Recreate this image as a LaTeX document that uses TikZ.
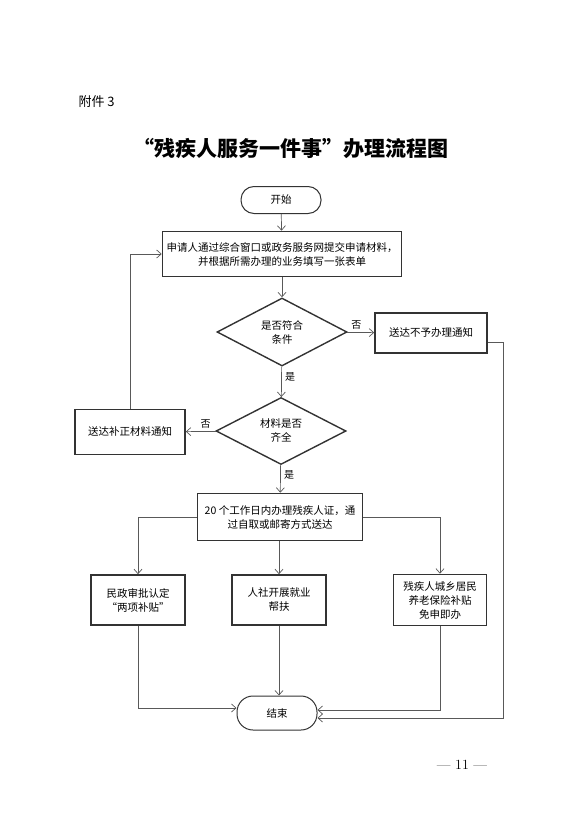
\documentclass[tikz,border=0pt]{standalone}
\usepackage{fontspec}
\newfontfamily\cjk{Noto Sans CJK SC}
\usetikzlibrary{shapes.geometric,arrows.meta}
\tikzset{
  flow/.style={x=1pt,y=-1pt,font=\cjk\fontsize{10.5}{14}\selectfont},
  stepbox/.style={draw=black!80,line width=1.6pt,align=center,minimum width=#1},
  stepbox/.default=94pt,
  term/.style={draw=black!80,line width=1pt,rounded corners=13pt,minimum width=80pt},
  decide/.style={diamond,draw=black!80,line width=1.4pt,align=center,aspect=1.9,
    minimum width=130pt,minimum height=68pt,inner sep=0pt},
  conn/.style={-{Straight Barb[length=4.5pt,width=8pt]},draw=black!65,line width=0.7pt},
  lbl/.style={font=\cjk\fontsize{10}{12}\selectfont}
}

\begin{document}
\begin{tikzpicture}[flow]
    \useasboundingbox (0,0) rectangle (582,832);
    \node[anchor=west,font=\cjk\fontsize{13}{15}\selectfont] (annex) at (75,102) {附件 3};
    \node[font=\cjk\bfseries\fontsize{21}{24}\selectfont] (title) at (291,148)
      {“残疾人服务一件事”办理流程图};
    % start and first steps
    \node[term,minimum height=27pt] (start) at (281,200) {开始};
    \node[stepbox=239pt,minimum height=45pt] (apply) at (282,254)
      {申请人通过综合窗口或政务服务网提交申请材料，\\并根据所需办理的业务填写一张表单};
    \node[decide] (check) at (282,332) {是否符合\\条件};
    \node[stepbox=112pt,minimum height=40pt] (reject) at (431,333) {送达不予办理通知};
    \node[decide,minimum height=67pt] (full) at (281,431) {材料是否\\齐全};
    \node[stepbox=110pt,minimum height=45pt] (fix) at (130,432) {送达补正材料通知};
    \node[stepbox=165pt,minimum height=47pt] (issue) at (280,517)
      {20 个工作日内办理残疾人证，通\\过自取或邮寄方式送达};
    % three services
    \node[stepbox,minimum height=50pt] (civil) at (138,600) {民政审批认定\\“两项补贴”};
    \node[stepbox,minimum height=50pt] (job) at (279,600) {人社开展就业\\帮扶};
    \node[stepbox=93pt,minimum height=51pt] (pension) at (440,600)
      {残疾人城乡居民\\养老保险补贴\\免申即办};
    \node[term,minimum height=34pt,rounded corners=16pt] (end) at (277,713) {结束};
    \node[font=\fontsize{14}{16}\selectfont] (page) at (462,765) {— 11 —};
    % connectors
    \draw[conn] (start) -- (apply);
    \draw[conn] (apply) -- (check);
    \draw[conn] (check) -- node[lbl,above,pos=0.35] {否} (reject);
    \draw[conn] (check) -- node[lbl,right,pos=0.35] {是} (full);
    \draw[conn] (full) -- node[lbl,above,pos=0.35] {否} (fix);
    \draw[conn] (fix.north) |- (apply.west);
    \draw[conn] (full) -- node[lbl,right,pos=0.35] {是} (issue);
    \draw[conn] (issue.west) -| (civil.north);
    \draw[conn] (issue.south -| job.north) -- (job.north);
    \draw[conn] (issue.east) -| (pension.north);
    \draw[conn] (civil.south) |- ([yshift=5pt]end.west);
    \draw[conn] (job.south) -- (job.south |- end.north);
    \draw[conn] (pension.south) |- ([yshift=3pt]end.east);
    \draw[conn] ([yshift=-9pt]reject.east) -- ++(16,0) |- ([yshift=-5pt]end.east);
\end{tikzpicture}
\end{document}
